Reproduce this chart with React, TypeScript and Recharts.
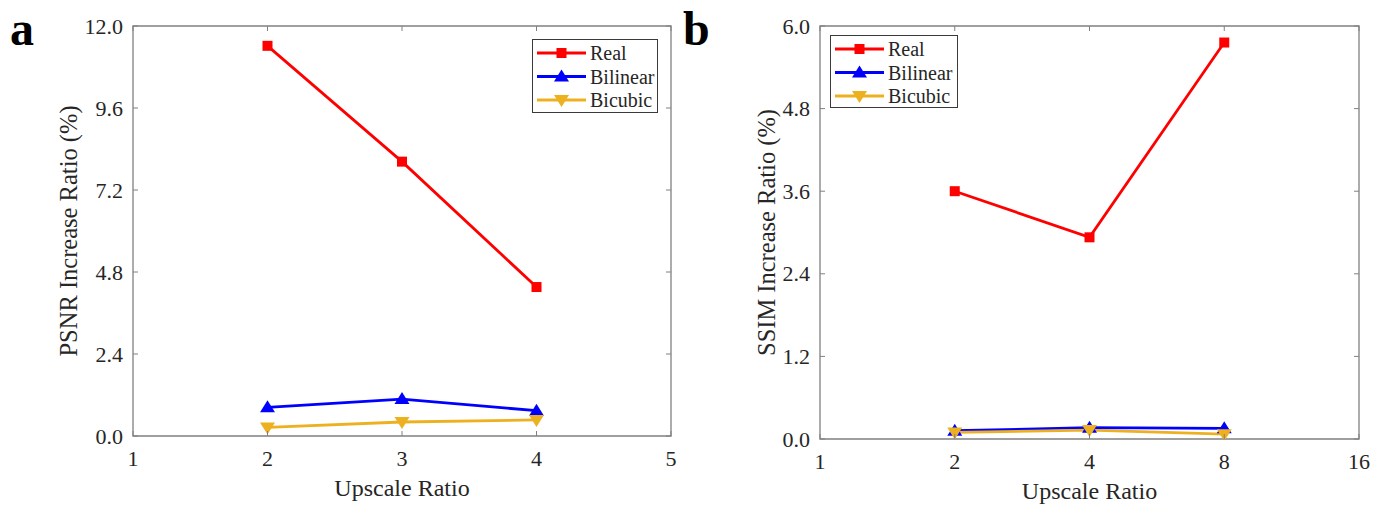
import React from 'react';
import { LineChart, Line, XAxis, YAxis, ReferenceArea, Legend } from 'recharts';

const FONT = "'Times New Roman', 'Liberation Serif', serif";
const FRAME = '#808080';
const TEXT = '#262626';

// panel a: PSNR
const psnrRatios = [2, 3, 4];
const psnrReal = [11.42, 8.03, 4.36];
const psnrBilinear = [0.84, 1.08, 0.74];
const psnrBicubic = [0.25, 0.41, 0.47];
const psnrXTicks = [1, 2, 3, 4, 5];
const psnrYTicks = [0, 2.4, 4.8, 7.2, 9.6, 12];

// panel b: SSIM (log2 x axis)
const ssimRatios = [2, 4, 8];
const ssimReal = [3.6, 2.93, 5.76];
const ssimBilinear = [0.12, 0.165, 0.155];
const ssimBicubic = [0.095, 0.13, 0.07];
const ssimXTicks = [1, 2, 4, 8, 16];
const ssimYTicks = [0, 1.2, 2.4, 3.6, 4.8, 6];

const series = [
  { key: 'real', label: 'Real', color: '#ff0000', marker: 'square' },
  { key: 'bilinear', label: 'Bilinear', color: '#0000ff', marker: 'up' },
  { key: 'bicubic', label: 'Bicubic', color: '#edb120', marker: 'down' },
];

const buildRows = (x: number[], real: number[], bil: number[], bic: number[]) =>
  x.map((v, i) => ({ x: v, real: real[i], bilinear: bil[i], bicubic: bic[i] }));

const psnrData = buildRows(psnrRatios, psnrReal, psnrBilinear, psnrBicubic);
const ssimData = buildRows(ssimRatios, ssimReal, ssimBilinear, ssimBicubic);

function Marker({ cx, cy, type, color }: any) {
  if (cx == null || cy == null) return null;
  if (type === 'square') {
    return <rect x={cx - 5} y={cy - 5} width={10} height={10} fill={color} />;
  }
  if (type === 'up') {
    return <polygon points={`${cx},${cy - 7} ${cx + 7.5},${cy + 5} ${cx - 7.5},${cy + 5}`} fill={color} />;
  }
  return <polygon points={`${cx},${cy + 7} ${cx + 7.5},${cy - 5} ${cx - 7.5},${cy - 5}`} fill={color} />;
}

interface Box {
  left: number;
  right: number;
  top: number;
  bottom: number;
}

function LegendBox({ w, h }: { w: number; h: number }) {
  return (
    <svg width={w} height={h} style={{ display: 'block' }}>
      <rect x={0.5} y={0.5} width={w - 1} height={h - 1} fill="#fff" stroke="#3a3a3a" />
      {series.map((s, i) => {
        const y = 14 + i * 23.5;
        return (
          <g key={s.key}>
            <line x1={5} x2={54} y1={y} y2={y} stroke={s.color} strokeWidth={2.8} />
            <Marker cx={29.5} cy={y} type={s.marker} color={s.color} />
            <text x={58} y={y} dominantBaseline="central" fontSize={20} fontFamily={FONT} fill={TEXT}>
              {s.label}
            </text>
          </g>
        );
      })}
    </svg>
  );
}

interface PanelProps {
  width: number;
  box: Box;
  data: any[];
  xTicks: number[];
  yTicks: number[];
  logX?: boolean;
  yTitle: string;
  titleX: number;
  legendAt: { left: number; top: number; w: number; h: number };
}

function Panel({ width, box, data, xTicks, yTicks, logX, yTitle, titleX, legendAt }: PanelProps) {
  const xDomain = [xTicks[0], xTicks[xTicks.length - 1]];
  const yDomain = [yTicks[0], yTicks[yTicks.length - 1]];

  const xTick = (p: any) => {
    const x = p.x;
    return (
      <g key={`xt-${p.index}`}>
        <line x1={x} x2={x} y1={box.bottom} y2={box.bottom - 5} stroke={FRAME} />
        <line x1={x} x2={x} y1={box.top} y2={box.top + 5} stroke={FRAME} />
        <text x={x} y={box.bottom + 22} textAnchor="middle" dominantBaseline="central"
          fontSize={22} fontFamily={FONT} fill={TEXT}>
          {p.payload.value}
        </text>
      </g>
    );
  };

  const yTick = (p: any) => {
    const y = p.y;
    return (
      <g key={`yt-${p.index}`}>
        <line x1={box.left} x2={box.left + 5} y1={y} y2={y} stroke={FRAME} />
        <line x1={box.right} x2={box.right - 5} y1={y} y2={y} stroke={FRAME} />
        <text x={box.left - 10} y={y} textAnchor="end" dominantBaseline="central"
          fontSize={22} fontFamily={FONT} fill={TEXT}>
          {Number(p.payload.value).toFixed(1)}
        </text>
      </g>
    );
  };

  const cx = (box.left + box.right) / 2;
  const cy = (box.top + box.bottom) / 2;

  return (
    <LineChart
      width={width}
      height={506}
      data={data}
      margin={{ top: box.top, right: width - box.right, bottom: 506 - box.bottom - 40, left: box.left - 60 }}
    >
      <XAxis
        dataKey="x"
        type="number"
        scale={logX ? 'log' : 'linear'}
        domain={xDomain}
        ticks={xTicks}
        allowDataOverflow
        height={40}
        axisLine={false}
        tickLine={false}
        tick={xTick}
        interval={0}
        label={() => (
          <text x={cx} y={box.bottom + 52} textAnchor="middle" dominantBaseline="central"
            fontSize={24} fontFamily={FONT} fill={TEXT}>
            Upscale Ratio
          </text>
        )}
      />
      <YAxis
        type="number"
        domain={yDomain}
        ticks={yTicks}
        allowDataOverflow
        width={60}
        axisLine={false}
        tickLine={false}
        tick={yTick}
        interval={0}
        label={() => (
          <text x={titleX} y={cy} transform={`rotate(-90 ${titleX} ${cy})`} textAnchor="middle"
            dominantBaseline="central" fontSize={24.5} fontFamily={FONT} fill={TEXT}>
            {yTitle}
          </text>
        )}
      />
      <ReferenceArea x1={xDomain[0]} x2={xDomain[1]} y1={yDomain[0]} y2={yDomain[1]}
        fill="#fff" fillOpacity={0} stroke={FRAME} strokeWidth={1.3} />
      <Legend
        layout="horizontal"
        verticalAlign="middle"
        align="center"
        content={() => <LegendBox w={legendAt.w} h={legendAt.h} />}
        wrapperStyle={{ position: 'absolute', left: legendAt.left, top: legendAt.top, width: legendAt.w, height: legendAt.h }}
      />
      {series.map((s) => (
        <Line
          key={s.key}
          dataKey={s.key}
          name={s.label}
          type="linear"
          stroke={s.color}
          strokeWidth={2.8}
          isAnimationActive={false}
          activeDot={false}
          dot={(p: any) => <Marker key={`${s.key}-${p.index}`} cx={p.cx} cy={p.cy} type={s.marker} color={s.color} />}
        />
      ))}
    </LineChart>
  );
}

const letterStyle: React.CSSProperties = {
  position: 'absolute',
  fontFamily: FONT,
  fontWeight: 'bold',
  fontSize: 48,
  lineHeight: '48px',
  color: '#000',
};

export default function App() {
  return (
    <div style={{ position: 'absolute', left: 0, top: 0, width: 1375, height: 506, background: '#fff', overflow: 'hidden' }}>
      <div style={{ position: 'absolute', left: 0, top: 0 }}>
        <Panel
          width={680}
          box={{ left: 133, right: 671, top: 26, bottom: 436 }}
          data={psnrData}
          xTicks={psnrXTicks}
          yTicks={psnrYTicks}
          yTitle="PSNR Increase Ratio (%)"
          titleX={68}
          legendAt={{ left: 532, top: 39, w: 126, h: 74 }}
        />
      </div>
      <div style={{ position: 'absolute', left: 680, top: 0 }}>
        <Panel
          width={695}
          box={{ left: 140, right: 679, top: 26, bottom: 439 }}
          data={ssimData}
          xTicks={ssimXTicks}
          yTicks={ssimYTicks}
          logX
          yTitle="SSIM Increase Ratio (%)"
          titleX={86}
          legendAt={{ left: 150, top: 35, w: 128, h: 73 }}
        />
      </div>
      <div style={{ ...letterStyle, left: 10, top: 5 }}>a</div>
      <div style={{ ...letterStyle, left: 683, top: 5 }}>b</div>
    </div>
  );
}
